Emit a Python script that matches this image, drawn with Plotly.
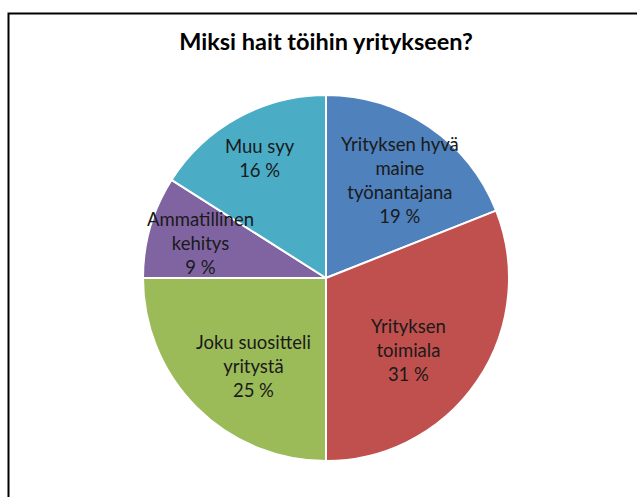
import math
import plotly.graph_objects as go

categories = ["Yrityksen hyvä maine työnantajana", "Yrityksen toimiala",
              "Joku suositteli yritystä", "Ammatillinen kehitys", "Muu syy"]
wrapped = ["Yrityksen hyvä<br>maine<br>työnantajana", "Yrityksen<br>toimiala",
           "Joku suositteli<br>yritystä", "Ammatillinen<br>kehitys", "Muu syy"]
values = [19, 31, 25, 9, 16]
colors = ["#4F81BD", "#C0504D", "#9BBB59", "#8064A2", "#4BACC6"]

# label placement style: position along slice arc (0..1) and radial fraction
label_arc = [0.54, 0.56, 0.44, 0.48, 0.50]
label_rad = [0.67, 0.60, 0.625, 0.71, 0.75]

W, H = 637, 497
FONT = "Lato, Open Sans, sans-serif"
dom_x = [143, 509]
dom_y = [94, 462]

fig = go.Figure(go.Pie(
    labels=categories,
    values=values,
    textinfo="none",
    marker=dict(colors=colors, line=dict(color="white", width=2)),
    sort=False,
    direction="clockwise",
    rotation=0,
    showlegend=False,
    hoverinfo="label+percent",
    domain=dict(x=[dom_x[0] / W, dom_x[1] / W], y=[1 - dom_y[1] / H, 1 - dom_y[0] / H]),
))

cx = (dom_x[0] + dom_x[1]) / 2
cy = (dom_y[0] + dom_y[1]) / 2
r = min(dom_x[1] - dom_x[0], dom_y[1] - dom_y[0]) / 2
total = sum(values)
cum = 0
annotations = []
for v, txt, af, rf in zip(values, wrapped, label_arc, label_rad):
    a0 = cum / total * 360
    a1 = (cum + v) / total * 360
    cum += v
    ang = math.radians(a0 + (a1 - a0) * af)
    px = cx + r * rf * math.sin(ang)
    py = cy - r * rf * math.cos(ang)
    annotations.append(dict(
        x=px / W, y=1 - py / H, xref="paper", yref="paper",
        text=f"{txt}<br>{v} %", showarrow=False, align="center",
        xanchor="center", yanchor="middle",
        font=dict(family=FONT, size=18.5, color="#1a1a1a"),
    ))

fig.update_layout(
    width=W, height=H,
    margin=dict(l=0, r=0, t=0, b=0),
    paper_bgcolor="white",
    title=dict(text="<b>Miksi hait töihin yritykseen?</b>", x=326 / W, xanchor="center",
               y=1 - 42 / H, yanchor="middle",
               font=dict(family=FONT, size=23.5, color="#000")),
    annotations=annotations,
    shapes=[dict(type="rect", xref="paper", yref="paper",
                 x0=8.5 / W, x1=1.02, y0=-0.02, y1=1 - 13.5 / H,
                 line=dict(color="black", width=2))],
)
fig.write_html("out.html", config={"displayModeBar": False},
               post_script="document.body.style.margin='0';document.body.style.overflow='hidden';")
